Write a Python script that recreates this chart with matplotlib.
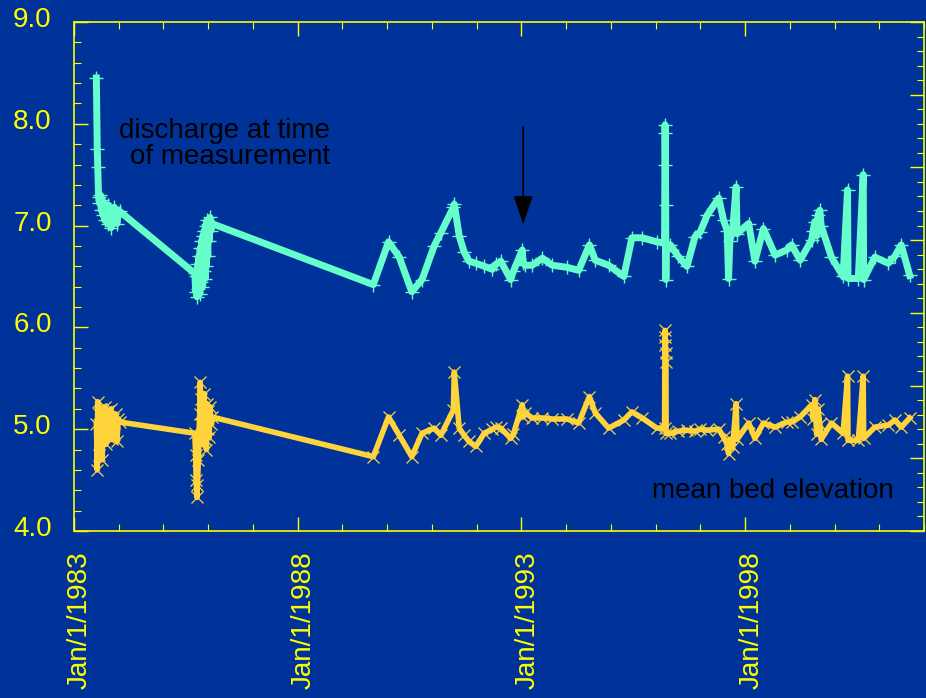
import numpy as np
import matplotlib.pyplot as plt
import matplotlib.transforms as mtransforms
from matplotlib.ticker import FixedLocator, MultipleLocator, FuncFormatter

BG = "#003399"
AXIS = "#FFFF00"
CYAN = "#66FFCC"
GOLD = "#FFD43B"

# measurement dates (decimal years); the two series share the same dates
dates = [
    1983.50, 1983.52, 1983.53, 1983.55, 1983.57, 1983.59, 1983.61, 1983.63,
    1983.65, 1983.67, 1983.69, 1983.71, 1983.73, 1983.75, 1983.77, 1983.79,
    1983.81, 1983.83, 1983.85, 1983.87, 1983.90, 1983.93, 1983.96, 1983.99,
    1984.02,
    1985.70, 1985.72, 1985.73, 1985.75, 1985.76, 1985.78, 1985.79, 1985.81,
    1985.82, 1985.84, 1985.85, 1985.87, 1985.88, 1985.90, 1985.91, 1985.93,
    1985.94, 1985.96, 1985.97, 1985.99, 1986.00, 1986.02, 1986.04, 1986.06,
    1986.08,
    1989.69, 1990.03, 1990.27, 1990.55, 1990.78, 1991.05, 1991.20, 1991.48,
    1991.50, 1991.61, 1991.72, 1991.83, 1991.98, 1992.17, 1992.35, 1992.43,
    1992.54, 1992.76, 1992.82, 1993.02, 1993.04, 1993.09, 1993.24, 1993.47,
    1993.69, 1994.02, 1994.28, 1994.52, 1994.65, 1994.95, 1995.29, 1995.47,
    1995.70, 1996.03,
    1996.20, 1996.21, 1996.215, 1996.22, 1996.225, 1996.23, 1996.235, 1996.33,
    1996.50, 1996.70, 1996.88, 1997.00, 1997.15, 1997.41, 1997.52, 1997.60,
    1997.63, 1997.66, 1997.72, 1997.80, 1997.82, 1998.08, 1998.22, 1998.41,
    1998.67, 1998.93, 1999.04, 1999.23, 1999.49, 1999.52, 1999.56, 1999.60,
    1999.63, 1999.67, 1999.70, 1999.93, 2000.19, 2000.29, 2000.30, 2000.53,
    2000.64, 2000.65, 2000.90, 2001.20, 2001.35, 2001.49, 2001.68,
]

# discharge at time of measurement (plotted on the left scale)
discharge = [
    8.45, 7.75, 7.58, 7.28, 7.22, 7.30, 7.15, 7.25,
    7.10, 7.22, 7.05, 7.18, 7.12, 7.02, 7.20, 7.08,
    7.15, 6.98, 7.12, 7.05, 7.18, 7.10, 7.02, 7.12,
    7.14,
    6.53, 6.35, 6.50, 6.30, 6.62, 6.38, 6.70, 6.33,
    6.78, 6.45, 6.85, 6.40, 6.90, 6.55, 6.95, 6.48,
    7.00, 6.60, 7.05, 6.70, 7.02, 6.85, 7.08, 6.95,
    7.02,
    6.42, 6.84, 6.69, 6.35, 6.47, 6.80, 6.93, 7.18,
    7.21, 6.90, 6.74, 6.65, 6.63, 6.60, 6.57, 6.62,
    6.65, 6.47, 6.55, 6.76, 6.63, 6.61, 6.61, 6.68,
    6.61, 6.59, 6.56, 6.81, 6.66, 6.61, 6.50, 6.88,
    6.88, 6.84,
    6.83, 7.99, 7.91, 7.60, 7.20, 6.47, 6.81, 6.81,
    6.70, 6.60, 6.89, 6.94, 7.10, 7.27, 7.05, 6.95,
    6.48, 6.85, 6.95, 7.38, 6.92, 7.02, 6.65, 6.97,
    6.71, 6.76, 6.81, 6.66, 6.86, 6.95, 7.04, 6.90,
    7.10, 7.15, 7.00, 6.69, 6.50, 7.35, 6.48, 6.48,
    7.50, 6.47, 6.69, 6.63, 6.70, 6.81, 6.51,
]

# mean bed elevation
bed_elev = [
    5.05, 4.60, 5.27, 4.75, 5.15, 4.90, 5.20, 4.70,
    5.10, 4.95, 5.22, 4.85, 5.05, 5.18, 4.92, 5.12,
    4.98, 5.20, 4.90, 5.10, 4.95, 5.15, 4.88, 5.10,
    5.07,
    4.96, 4.75, 4.50, 4.33, 4.45, 4.70, 4.90, 5.15,
    5.46, 5.05, 5.30, 4.85, 5.20, 4.95, 5.35, 4.90,
    5.10, 4.80, 5.25, 5.00, 5.18, 4.92, 5.22, 5.05,
    5.12,
    4.73, 5.12, 4.94, 4.73, 4.96, 5.01, 4.94, 5.19,
    5.56, 5.01, 4.94, 4.88, 4.83, 4.96, 5.00, 5.02,
    5.01, 4.91, 4.95, 5.24, 5.12, 5.16, 5.11, 5.11,
    5.10, 5.10, 5.06, 5.32, 5.16, 5.01, 5.09, 5.17,
    5.11, 5.01,
    5.01, 5.97, 5.91, 5.83, 5.75, 5.66, 4.96, 4.96,
    4.98, 4.99, 4.98, 5.00, 4.99, 5.00, 4.92, 4.85,
    4.76, 4.90, 4.82, 5.25, 4.90, 5.06, 4.91, 5.06,
    5.02, 5.07, 5.07, 5.12, 5.24, 5.10, 5.29, 4.95,
    5.20, 5.05, 4.90, 5.06, 4.96, 5.52, 4.89, 4.89,
    5.52, 4.91, 5.02, 5.04, 5.09, 5.02, 5.11,
]

year_ticks = [1983, 1988, 1993, 1998]

plt.rcParams.update({"font.family": ["Liberation Sans", "DejaVu Sans"],
                     "font.size": 20})

fig = plt.figure(figsize=(9.26, 6.98), dpi=100, facecolor=BG)
ax = fig.add_axes([0.0799, 0.2393, 0.918, 0.7292], facecolor=BG)

ax.plot(dates, bed_elev, color=GOLD, lw=4.0, marker="x", ms=8, mew=0.9,
        solid_joinstyle="round", zorder=3)
ax.plot(dates, discharge, color=CYAN, lw=5.0, marker="+", ms=10, mew=1.0,
        solid_joinstyle="round", zorder=3)

ax.set_xlim(1983.0, 2002.0)
ax.set_ylim(4.0, 9.0)
ax.xaxis.set_major_locator(FixedLocator(year_ticks))
ax.xaxis.set_minor_locator(MultipleLocator(1))
ax.xaxis.set_major_formatter(FuncFormatter(lambda v, p: f"Jan/1/{int(round(v))}"))
ax.yaxis.set_major_locator(MultipleLocator(1))
ax.yaxis.set_minor_locator(MultipleLocator(0.2))
ax.yaxis.set_major_formatter(FuncFormatter(lambda v, p: f"{v:.1f}"))

for s in ax.spines.values():
    s.set_color(AXIS)
    s.set_linewidth(1.2)
ax.tick_params(axis="both", which="both", direction="in", colors=AXIS,
               labelcolor=AXIS, top=True, right=False)
ax.tick_params(which="major", length=10, width=1.0)
ax.tick_params(which="minor", length=5, width=0.8)
ax.tick_params(axis="x", which="major", labelrotation=90, pad=12)
ax.tick_params(axis="y", which="major", pad=16)

# right-hand scale for discharge, ticks only
ax2 = ax.twinx()
ax2.set_ylim(0, 7)
ax2.yaxis.set_major_locator(MultipleLocator(1))
ax2.yaxis.set_minor_locator(MultipleLocator(0.2))
ax2.tick_params(axis="y", which="both", direction="in", colors=AXIS,
                labelright=False)
ax2.tick_params(which="major", length=10, width=1.0)
ax2.tick_params(which="minor", length=5, width=0.8)
for s in ax2.spines.values():
    s.set_visible(False)

# nudge tick labels: y labels up a little, date labels right and down
y_off = mtransforms.ScaledTranslation(0, 5 / 100, fig.dpi_scale_trans)
for lbl in ax.get_yticklabels():
    lbl.set_transform(lbl.get_transform() + y_off)
x_off = mtransforms.ScaledTranslation(6 / 100, -4 / 100, fig.dpi_scale_trans)
for lbl in ax.get_xticklabels():
    lbl.set_transform(lbl.get_transform() + x_off)

ax.text(1988.73, 7.80, "discharge at time\nof measurement", color="black",
        ha="right", va="center", multialignment="right", linespacing=1.0)
ax.text(1998.62, 4.39, "mean bed elevation", color="black",
        ha="center", va="center")
ax.annotate("", xy=(1993.04, 7.01), xytext=(1993.04, 7.97),
            arrowprops=dict(arrowstyle="-|>,head_length=0.9,head_width=0.3",
                            color="black", lw=1.2, shrinkA=0, shrinkB=0))

fig.savefig("out.png", dpi=100, facecolor=BG)
